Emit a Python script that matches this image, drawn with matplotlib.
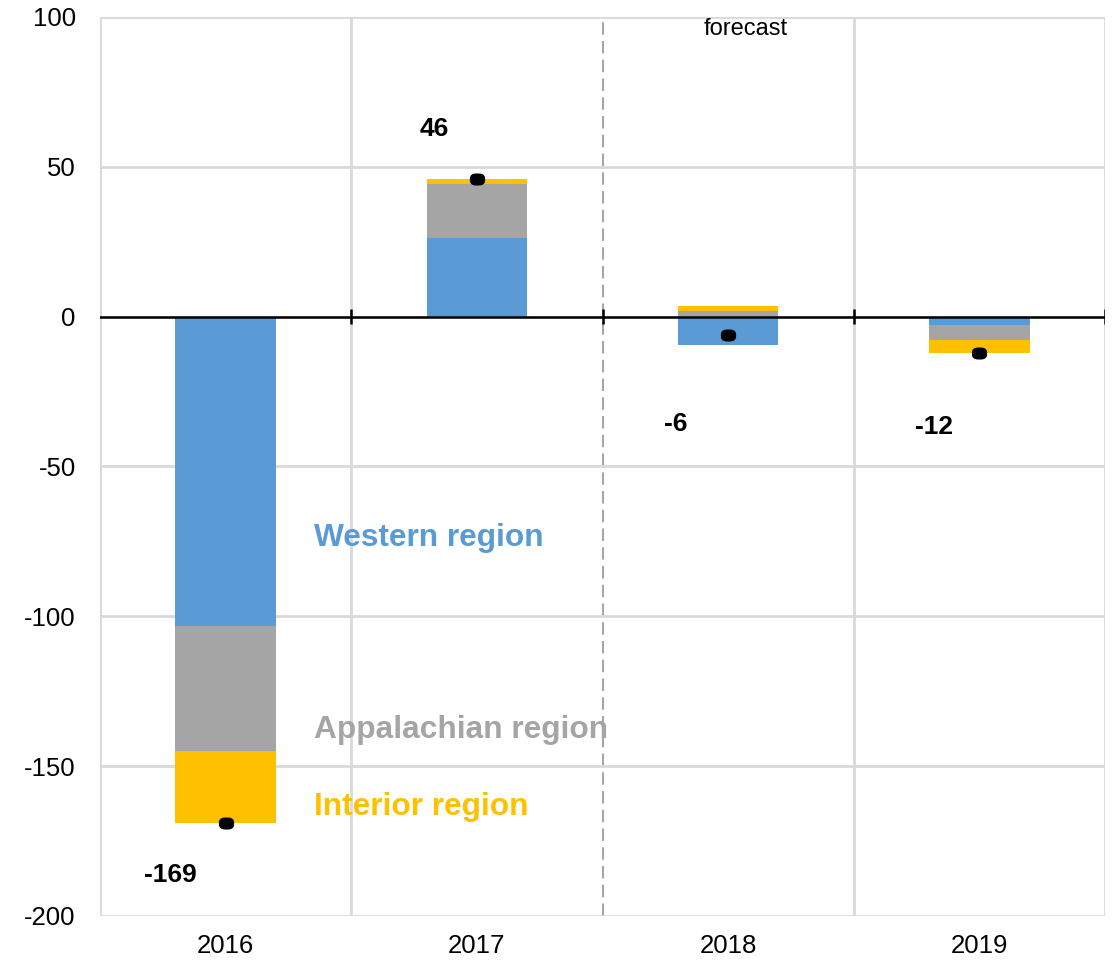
import numpy as np
import matplotlib
matplotlib.use("Agg")
from matplotlib import pyplot as plt

plt.rcParams['font.family'] = ['Liberation Sans', 'DejaVu Sans']
plt.rcParams['axes.unicode_minus'] = False

years = ['2016', '2017', '2018', '2019']
western = [-103.3, 26.3, -9.5, -2.7]
appalachian = [-41.5, 18.0, 1.8, -5.2]
interior = [-24.2, 1.7, 1.7, -4.1]
totals = [-169, 46, -6, -12]
series_names = ['Western region', 'Appalachian region', 'Interior region']
colors = ['#5B9BD5', '#A5A5A5', '#FFC000']

fig = plt.figure(figsize=(11.2, 9.64), dpi=100)
ax = fig.add_axes([0.0893, 0.0498, 0.8973, 0.9326])

x = np.arange(len(years))
pos_base = np.zeros(len(years))
neg_base = np.zeros(len(years))
for vals, c in zip([western, appalachian, interior], colors):
    vals = np.array(vals)
    bottoms = np.where(vals >= 0, pos_base, neg_base)
    ax.bar(x, vals, width=0.4, bottom=bottoms, color=c, zorder=3)
    pos_base += np.where(vals >= 0, vals, 0)
    neg_base += np.where(vals < 0, vals, 0)

# total markers (small rounded ovals)
t = np.linspace(0, 2 * np.pi, 40)
oval = np.column_stack([1.3 * np.sign(np.cos(t)) * np.abs(np.cos(t)) ** 0.7,
                        np.sign(np.sin(t)) * np.abs(np.sin(t)) ** 0.7])
ax.plot(x, totals, linestyle='none', marker=oval, markersize=10,
        color='black', zorder=5)

# value labels
lbl_dx = [-0.22, -0.17, -0.21, -0.18]
lbl_y = [-186.2, 62.5, -35.8, -36.8]
for i, v in enumerate(totals):
    ax.text(x[i] + lbl_dx[i], lbl_y[i], str(v), ha='center', va='center',
            fontsize=19, fontweight='bold', color='black')

# region labels
region_y = [-73.9, -137.9, -163.5]
for name, c, yy in zip(series_names, colors, region_y):
    ax.text(0.35, yy, name, ha='left', va='center', fontsize=22.8,
            fontweight='bold', color=c, zorder=6)

ax.text(2.07, 96.0, 'forecast', ha='center', va='center', fontsize=17)

ax.set_xlim(-0.5, 3.5)
ax.set_ylim(-200, 100)
ax.set_yticks(np.arange(-200, 101, 50))
ax.set_xticks(x)
ax.set_xticklabels(years)
ax.tick_params(axis='both', length=0, labelsize=18.5)
ax.tick_params(axis='y', pad=17.5)
ax.tick_params(axis='x', pad=13)

for s in ax.spines.values():
    s.set_visible(False)

ax.yaxis.grid(True, color='#d9d9d9', linewidth=2, zorder=0)
for b in [-0.5, 0.5, 1.5, 2.5, 3.5]:
    if b == 1.5:
        ax.axvline(b, color='#a6a6a6', linewidth=1.5, linestyle=(0, (6, 3)), zorder=1)
    else:
        ax.axvline(b, color='#d9d9d9', linewidth=2, zorder=0)

ax.axhline(0, color='black', linewidth=1.8, zorder=4)
ax.vlines([0.5, 1.5, 2.5, 3.5], -2.5, 2.5, color='black', linewidth=1.8, zorder=4)

fig.savefig('out.png', dpi=100)
